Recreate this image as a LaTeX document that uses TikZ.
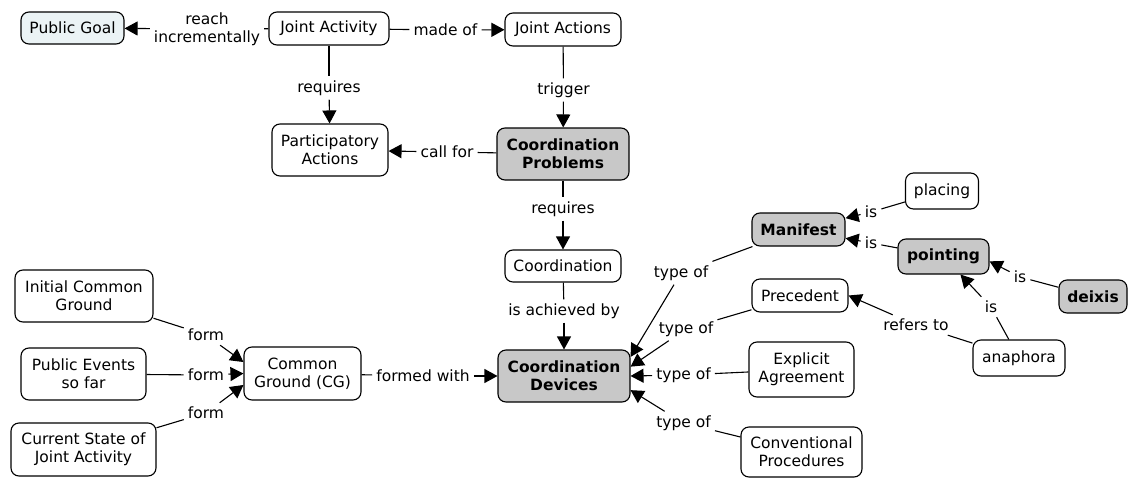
\documentclass[tikz,border=0pt]{standalone}
\usepackage{fontspec}
\setmainfont{DejaVu Sans}
\usetikzlibrary{arrows.meta}
\definecolor{keygray}{RGB}{200,200,200}
\definecolor{goalblue}{RGB}{235,243,245}
\begin{document}
\begin{tikzpicture}[x=1pt,y=-1pt,
  font=\fontsize{15.5}{18}\selectfont,
  sz/.style 2 args={minimum width=#1pt,minimum height=#2pt},
  concept/.style={draw=black, line width=1.1pt, rounded corners=8pt, fill=white,
    align=center, inner sep=0pt},
  keyconcept/.style={concept, fill=keygray, font=\fontsize{15.5}{18}\selectfont\bfseries},
  goal/.style={concept, fill=goalblue},
  link/.style={inner sep=4pt, align=center},
  conn/.style={line width=1.1pt},
  arr/.style={conn, -{Triangle[length=13pt,width=14pt]}},
]
\useasboundingbox (0,0) rectangle (1128,477);

% concepts
\node[goal, sz={103}{32}] (pg) at (72.5,28) {Public Goal};
\node[concept, sz={120}{33}] (ja) at (329,28.5) {Joint Activity};
\node[concept, sz={116}{33}] (jac) at (563,29.5) {Joint Actions};
\node[concept, sz={116}{52}] (pa) at (330,150) {Participatory\\Actions};
\node[keyconcept, sz={132}{52}] (cp) at (563,154) {Coordination\\Problems};
\node[concept, sz={116}{32}] (co) at (563,266) {Coordination};
\node[keyconcept, sz={132}{52}] (cd) at (564,376) {Coordination\\Devices};
\node[concept, sz={117}{53}] (cg) at (302.5,373.5) {Common\\Ground (CG)};
\node[concept, sz={138}{52}] (icg) at (84,296) {Initial Common\\Ground};
\node[concept, sz={125}{52}] (pe) at (83.5,374) {Public Events\\so far};
\node[concept, sz={145}{53}] (cs) at (83.5,449.5) {Current State of\\Joint Activity};
\node[keyconcept, sz={93}{33}] (man) at (798.5,229.5) {Manifest};
\node[concept, sz={73}{36}] (pl) at (942,191) {placing};
\node[keyconcept, sz={91}{35}] (pt) at (943.5,256.5) {pointing};
\node[keyconcept, sz={68}{33}] (dx) at (1093,296.5) {deixis};
\node[concept, sz={96}{33}] (prec) at (800,295.5) {Precedent};
\node[concept, sz={105}{55}] (ea) at (801.5,369.5) {Explicit\\Agreement};
\node[concept, sz={121}{50}] (cvp) at (801.5,452) {Conventional\\Procedures};
\node[concept, sz={92}{36}] (an) at (1019,358) {anaphora};

% linking phrases
\node[link] (lreach) at (207,29) {reach\\incrementally};
\node[link] (lmade) at (445.5,30) {made of};
\node[link] (lreq1) at (329,88) {requires};
\node[link] (ltrig) at (563.5,90) {trigger};
\node[link] (lcall) at (447,152) {call for};
\node[link] (lreq2) at (563,209) {requires};
\node[link] (lach) at (564,311) {is achieved by};
\node[link] (lfw) at (423,376) {formed with};
\node[link] (lf1) at (206,335) {form};
\node[link] (lf2) at (206,375) {form};
\node[link] (lf3) at (206,413) {form};
\node[link] (lt1) at (681,273) {type of};
\node[link] (lt2) at (686,329) {type of};
\node[link] (lt3) at (683.5,375) {type of};
\node[link] (lt4) at (683.5,423) {type of};
\node[link] (lis1) at (871,212) {is};
\node[link] (lis2) at (871,243) {is};
\node[link] (lis3) at (1020,277) {is};
\node[link] (lis4) at (991,307) {is};
\node[link] (lref) at (916,325) {refers to};

% propositions
\draw[conn] (ja) -- (lreach);  \draw[arr] (lreach) -- (pg);
\draw[conn] (ja) -- (lmade);   \draw[arr] (lmade) -- (jac);
\draw[conn] (ja) -- (lreq1);   \draw[arr] (lreq1) -- (pa);
\draw[conn] (jac) -- (ltrig);  \draw[arr] (ltrig) -- (cp);
\draw[conn] (cp) -- (lcall);   \draw[arr] (lcall) -- (pa);
\draw[conn] (cp) -- (lreq2);   \draw[arr] (lreq2) -- (co);
\draw[conn] (co) -- (lach);    \draw[arr] (lach) -- (cd);
\draw[conn] (cg) -- (lfw);     \draw[arr] (lfw) -- (cd);
\draw[conn] (icg) -- (lf1);    \draw[arr] (lf1) -- (cg.169);
\draw[conn] (pe) -- (lf2);     \draw[arr] (lf2) -- (cg.west);
\draw[conn] (cs) -- (lf3);     \draw[arr] (lf3) -- (cg.191);
\draw[conn] (man) -- (lt1);    \draw[arr] (lt1) -- (cd.16);
\draw[conn] (prec) -- (lt2);   \draw[arr] (lt2) -- (cd.8);
\draw[conn] (ea) -- (lt3);     \draw[arr] (lt3) -- (cd.east);
\draw[conn] (cvp) -- (lt4);    \draw[arr] (lt4) -- (cd.-12);
\draw[conn] (pl) -- (lis1);    \draw[arr] (lis1) -- (man);
\draw[conn] (pt) -- (lis2);    \draw[arr] (lis2) -- (man);
\draw[conn] (dx) -- (lis3);    \draw[arr] (lis3) -- (pt.-6);
\draw[conn] (an) -- (lis4);    \draw[arr] (lis4) -- (pt);
\draw[conn] (an) -- (lref);    \draw[arr] (lref) -- (prec.east);
\end{tikzpicture}
\end{document}
